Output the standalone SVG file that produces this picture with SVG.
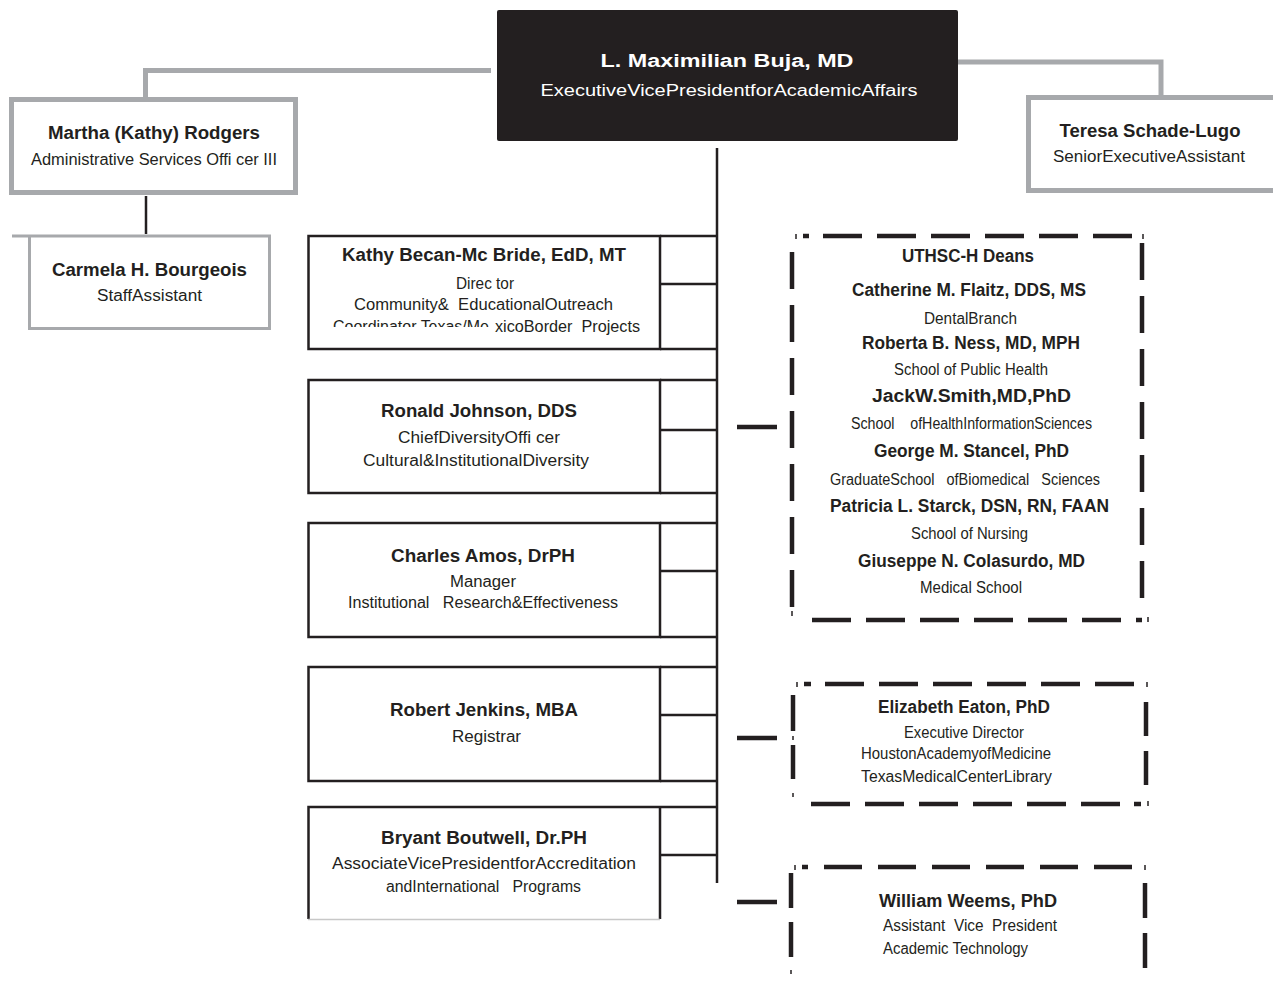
<svg xmlns="http://www.w3.org/2000/svg" width="1273" height="985" viewBox="0 0 1273 985">
<defs>
<style>
text{font-family:"Liberation Sans",Arial,sans-serif;fill:#231f20;text-anchor:middle;white-space:pre}
.b{font-weight:bold;font-size:17.5px}
.r{font-size:16px}
.w{fill:#ffffff}
.gray{stroke:#a7a9ac;fill:none}
.blk{stroke:#231f20;fill:none;stroke-width:2.5}
.dash{stroke:#231f20;fill:none;stroke-width:4.5}
.tick{stroke:#231f20;fill:none;stroke-width:1.5}
</style>
<clipPath id="clipCoord"><rect x="300" y="300" width="200" height="27"/></clipPath>
</defs>
<rect width="1273" height="985" fill="#ffffff"/>

<g id="connectors">
<path class="gray" stroke-width="5" d="M491,70.5 H145.5 V98"/>
<path class="gray" stroke-width="5" d="M958,62 H1161 V96"/>
<line class="blk" x1="146" y1="196" x2="146" y2="234" stroke-width="2"/>
<line class="blk" x1="717" y1="148" x2="717" y2="883"/>
<line class="dash" x1="737" y1="427" x2="777" y2="427"/>
<line class="dash" x1="737" y1="738" x2="777" y2="738"/>
<line class="dash" x1="737" y1="902" x2="777" y2="902"/>
</g>

<g id="buja">
<rect x="497" y="10" width="461" height="131" rx="2" fill="#231f20"/>
<text class="b w" x="727" y="67" font-size="19" textLength="253" lengthAdjust="spacingAndGlyphs">L. Maximilian Buja, MD</text>
<text class="r w" x="729" y="96" font-size="16.5" textLength="377" lengthAdjust="spacingAndGlyphs">ExecutiveVicePresidentforAcademicAffairs</text>
</g>

<g id="rodgers">
<rect class="gray" stroke-width="5" x="11.5" y="99.5" width="284" height="93"/>
<text class="b" x="154" y="139" textLength="212" lengthAdjust="spacingAndGlyphs">Martha (Kathy) Rodgers</text>
<text class="r" x="154" y="165" textLength="246" lengthAdjust="spacingAndGlyphs">Administrative Services Offi cer III</text>
</g>

<g id="bourgeois">
<path class="gray" stroke-width="3" d="M12,236 H269.5 V328.5 H29.5 V236"/>
<text class="b" x="149.5" y="276" textLength="195" lengthAdjust="spacingAndGlyphs">Carmela H. Bourgeois</text>
<text class="r" x="149.5" y="301" textLength="105" lengthAdjust="spacingAndGlyphs">StaffAssistant</text>
</g>

<g id="schade">
<path class="gray" stroke-width="5" d="M1280,97.5 H1028.5 V190.5 H1280"/>
<text class="b" x="1150" y="137" textLength="181" lengthAdjust="spacingAndGlyphs">Teresa Schade-Lugo</text>
<text class="r" x="1149" y="162" textLength="192" lengthAdjust="spacingAndGlyphs">SeniorExecutiveAssistant</text>
</g>

<g id="becan">
<rect class="blk" x="308.5" y="236" width="351.5" height="113"/>
<path class="blk" d="M660,236 H717 M660,284 H717 M660,349 H717"/>
<text class="b" x="484" y="261" textLength="284" lengthAdjust="spacingAndGlyphs">Kathy Becan-Mc Bride, EdD, MT</text>
<text class="r" x="485" y="289" textLength="58" lengthAdjust="spacingAndGlyphs">Direc tor</text>
<text class="r" x="483.5" y="310" textLength="259" lengthAdjust="spacingAndGlyphs">Community&amp;  EducationalOutreach</text>
<text class="r" x="411" y="332" textLength="156" lengthAdjust="spacingAndGlyphs" clip-path="url(#clipCoord)">Coordinator Texas/Me</text>
<text class="r" x="567.5" y="332" textLength="145" lengthAdjust="spacingAndGlyphs">xicoBorder  Projects</text>
</g>

<g id="johnson">
<rect class="blk" x="308.5" y="380" width="351.5" height="113"/>
<path class="blk" d="M660,380 H717 M660,430 H717 M660,493 H717"/>
<text class="b" x="479" y="417" textLength="196" lengthAdjust="spacingAndGlyphs">Ronald Johnson, DDS</text>
<text class="r" x="479" y="443" textLength="162" lengthAdjust="spacingAndGlyphs">ChiefDiversityOffi cer</text>
<text class="r" x="476" y="466" textLength="226" lengthAdjust="spacingAndGlyphs">Cultural&amp;InstitutionalDiversity</text>
</g>

<g id="amos">
<rect class="blk" x="308.5" y="523" width="351.5" height="114"/>
<path class="blk" d="M660,523 H717 M660,571 H717 M660,637 H717"/>
<text class="b" x="483" y="562" textLength="184" lengthAdjust="spacingAndGlyphs">Charles Amos, DrPH</text>
<text class="r" x="483" y="587" textLength="66" lengthAdjust="spacingAndGlyphs">Manager</text>
<text class="r" x="483" y="608" textLength="270" lengthAdjust="spacingAndGlyphs">Institutional   Research&amp;Effectiveness</text>
</g>

<g id="jenkins">
<rect class="blk" x="308.5" y="667" width="351.5" height="114"/>
<path class="blk" d="M660,667 H717 M660,715 H717 M660,781 H717"/>
<text class="b" x="484" y="716" textLength="188" lengthAdjust="spacingAndGlyphs">Robert Jenkins, MBA</text>
<text class="r" x="486.5" y="742" textLength="69" lengthAdjust="spacingAndGlyphs">Registrar</text>
</g>

<g id="boutwell">
<path class="blk" d="M308.5,919 V807 H717 M660,807 V919 M660,855 H717"/>
<line x1="308" y1="919.5" x2="660" y2="919.5" stroke="#c8c8c8" stroke-width="1.5"/>
<text class="b" x="484" y="844" textLength="206" lengthAdjust="spacingAndGlyphs">Bryant Boutwell, Dr.PH</text>
<text class="r" x="484" y="869" textLength="304" lengthAdjust="spacingAndGlyphs">AssociateVicePresidentforAccreditation</text>
<text class="r" x="483.5" y="892" textLength="195" lengthAdjust="spacingAndGlyphs">andInternational   Programs</text>
</g>

<g id="deans">
<line class="dash" x1="823" y1="236" x2="1132" y2="236" stroke-dasharray="39 15"/>
<line class="dash" x1="803" y1="236" x2="809" y2="236"/>
<line class="tick" x1="796" y1="234" x2="796" y2="239"/>
<line class="tick" x1="1143" y1="234" x2="1143" y2="239"/>
<line class="dash" x1="812" y1="620" x2="1121" y2="620" stroke-dasharray="39 15"/>
<line class="dash" x1="1136" y1="620" x2="1142" y2="620"/>
<line class="tick" x1="1148" y1="617" x2="1148" y2="622"/>
<line class="dash" x1="792" y1="252" x2="792" y2="607" stroke-dasharray="37 16"/>
<line class="tick" x1="792" y1="611" x2="792" y2="616"/>
<line class="dash" x1="1142" y1="243" x2="1142" y2="598" stroke-dasharray="37 16"/>
<text class="b" x="968" y="262" font-size="16.5" textLength="132" lengthAdjust="spacingAndGlyphs">UTHSC-H Deans</text>
<text class="b" x="969" y="296" textLength="234" lengthAdjust="spacingAndGlyphs">Catherine M. Flaitz, DDS, MS</text>
<text class="r" x="970.5" y="324" font-size="15" textLength="93" lengthAdjust="spacingAndGlyphs">DentalBranch</text>
<text class="b" x="971" y="349" textLength="218" lengthAdjust="spacingAndGlyphs">Roberta B. Ness, MD, MPH</text>
<text class="r" x="971" y="375" font-size="15" textLength="154" lengthAdjust="spacingAndGlyphs">School of Public Health</text>
<text class="b" x="971.5" y="402" textLength="199" lengthAdjust="spacingAndGlyphs">JackW.Smith,MD,PhD</text>
<text class="r" x="971.5" y="429" font-size="15" textLength="241" lengthAdjust="spacingAndGlyphs">School    ofHealthInformationSciences</text>
<text class="b" x="971.5" y="457" textLength="195" lengthAdjust="spacingAndGlyphs">George M. Stancel, PhD</text>
<text class="r" x="965" y="485" font-size="15" textLength="270" lengthAdjust="spacingAndGlyphs">GraduateSchool   ofBiomedical   Sciences</text>
<text class="b" x="969.5" y="512" textLength="279" lengthAdjust="spacingAndGlyphs">Patricia L. Starck, DSN, RN, FAAN</text>
<text class="r" x="969.5" y="539" font-size="15" textLength="117" lengthAdjust="spacingAndGlyphs">School of Nursing</text>
<text class="b" x="971.5" y="567" textLength="227" lengthAdjust="spacingAndGlyphs">Giuseppe N. Colasurdo, MD</text>
<text class="r" x="971" y="593" font-size="15" textLength="102" lengthAdjust="spacingAndGlyphs">Medical School</text>
</g>

<g id="eaton">
<line class="dash" x1="825" y1="684" x2="1134" y2="684" stroke-dasharray="39 15"/>
<line class="dash" x1="804" y1="684" x2="811" y2="684"/>
<line class="tick" x1="797" y1="682" x2="797" y2="687"/>
<line class="tick" x1="1147" y1="682" x2="1147" y2="687"/>
<line class="dash" x1="811" y1="804" x2="1120" y2="804" stroke-dasharray="39 15"/>
<line class="dash" x1="1134" y1="804" x2="1141" y2="804"/>
<line class="tick" x1="1148" y1="801" x2="1148" y2="806"/>
<line class="dash" x1="793" y1="695" x2="793" y2="731"/>
<line class="tick" x1="793" y1="736" x2="793" y2="740"/>
<line class="dash" x1="793" y1="745" x2="793" y2="779"/>
<line class="tick" x1="793" y1="793" x2="793" y2="797"/>
<line class="dash" x1="1146" y1="702" x2="1146" y2="736"/>
<line class="dash" x1="1146" y1="751" x2="1146" y2="785"/>
<text class="b" x="964" y="713" textLength="172" lengthAdjust="spacingAndGlyphs">Elizabeth Eaton, PhD</text>
<text class="r" x="964" y="738" font-size="15" textLength="120" lengthAdjust="spacingAndGlyphs">Executive Director</text>
<text class="r" x="956" y="759" font-size="15" textLength="190" lengthAdjust="spacingAndGlyphs">HoustonAcademyofMedicine</text>
<text class="r" x="956.5" y="782" font-size="15" textLength="191" lengthAdjust="spacingAndGlyphs">TexasMedicalCenterLibrary</text>
</g>

<g id="weems">
<line class="dash" x1="824" y1="867" x2="1132" y2="867" stroke-dasharray="38 16"/>
<line class="dash" x1="802" y1="867" x2="808" y2="867"/>
<line class="tick" x1="795" y1="865" x2="795" y2="870"/>
<line class="tick" x1="1145" y1="865" x2="1145" y2="870"/>
<line class="dash" x1="791" y1="873" x2="791" y2="908"/>
<line class="dash" x1="791" y1="922" x2="791" y2="957"/>
<line class="tick" x1="791" y1="970" x2="791" y2="974"/>
<line class="dash" x1="1145" y1="883" x2="1145" y2="918"/>
<line class="dash" x1="1145" y1="933" x2="1145" y2="968"/>
<text class="b" x="968" y="907" textLength="178" lengthAdjust="spacingAndGlyphs">William Weems, PhD</text>
<text class="r" x="970" y="931" font-size="15" textLength="174" lengthAdjust="spacingAndGlyphs">Assistant  Vice  President</text>
<text class="r" x="955.5" y="954" font-size="15" textLength="145" lengthAdjust="spacingAndGlyphs">Academic Technology</text>
</g>
</svg>
